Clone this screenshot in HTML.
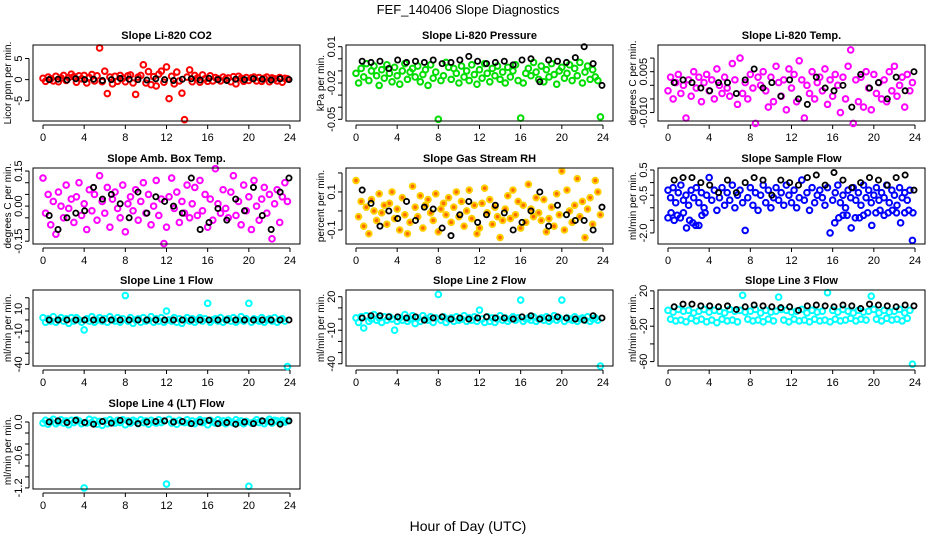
<!DOCTYPE html>
<html><head><meta charset="utf-8"><style>
body{margin:0;background:#fff;}
svg{display:block;font-family:"Liberation Sans",sans-serif;}
</style></head><body>
<svg id="chart" width="936" height="540" viewBox="0 0 936 540">
<rect width="936" height="540" fill="#fff"/>
<text x="468" y="14" text-anchor="middle" font-size="13">FEF_140406  Slope Diagnostics</text>
<text x="468" y="531" text-anchor="middle" font-size="14">Hour of Day (UTC)</text>
</svg>
<script>
const xTickValues=[0,4,8,12,16,20,24];
const blackTimes=[0.6,1.46,2.33,3.19,4.05,4.91,5.78,6.64,7.5,8.37,9.23,10.09,10.96,11.82,12.68,13.54,14.41,15.27,16.13,17.0,17.86,18.72,19.58,20.45,21.31,22.17,23.04,23.9];
const co2Vals=[0.3,-0.4,0.6,0.2,-0.3,0.8,-0.5,0.4,1.0,-0.2,0.5,1.3,0.7,-0.6,0.9,0.2,1.0,-0.8,0.5,1.2,-0.3,0.9,7.5,-0.5,2.0,-3.3,0.6,-1.0,0.8,-0.4,1.0,0.3,-0.5,0.9,1.1,-0.8,-3.5,0.6,1.0,3.5,-0.8,1.9,-1.2,0.7,-1.5,1.3,2.0,-0.6,3.0,-4.5,0.8,-1.0,1.8,-0.3,-3.2,-9.5,0.6,2.3,-0.5,1.0,0.4,-0.6,1.1,0.2,-0.4,0.9,-0.3,0.5,0.2,-0.3,0.6,0.1,0.4,-0.5,0.7,-1.0,0.8,0.3,-0.4,0.5,-0.2,0.4,0.6,-0.3,0.5,-0.4,0.3,0.6,-0.5,0.4,0.2,-0.3,0.5,-0.6,0.3,0.2];
const co2Black=[0,0.1,-0.1,0.2,0,0.1,-0.2,0,0.3,0.1,0,-0.1,0.2,0,-0.2,0.1,0.2,-0.1,0.3,0,-0.2,0.1,0,0.2,0.1,-0.1,0.2,0];
const presVals=[-12,-20,-8,-15,-4,-18,-10,-6,-14,-22,-9,-16,-5,-12,-19,-7,-14,-21,-10,-4,-17,-11,-8,-15,-6,-19,-13,-9,-22,-5,-16,-11,-50,-18,-14,-3,-7,-17,-8,-12,-20,-6,-15,-10,-18,-5,-13,-21,-9,-16,-4,-12,-19,-8,-14,-6,-17,-11,-20,-7,-15,-10,-5,-18,-49,-20,-12,-8,-14,-3,-11,-17,-6,-19,-9,-15,-4,-13,-21,-10,-7,-16,-12,-5,-18,-8,-14,-3,-20,-11,-6,-17,-9,-15,-18,-48];
const presBlack=[-2,-3,-2,-8,-1,-3,-2,-3,-1,-4,-3,-1,2,-2,-4,-3,-2,-5,-1,0,-19,-1,-2,-3,1,10,-4,-22];
const tempVals=[-2,3,-5,1,4,-3,0,-12,2,-4,5,-1,3,-6,1,4,-2,2,-5,6,0,-3,3,-1,-4,8,2,-7,10,-3,1,-5,4,-1,-14,3,0,5,-2,-8,3,-6,7,1,-4,2,-9,6,-1,4,-6,9,2,-12,0,-3,5,-5,1,3,-2,6,-7,2,-4,4,0,-10,3,-5,7,13,-14,2,-6,3,-8,5,-1,-9,4,-3,1,-5,2,-6,5,-2,7,-4,0,3,-8,4,-2,1];
const tempBlack=[1,2,1,-1,-2,1,1,-3,2,6,-1,1,-4,2,-5,-7,3,-1,-2,0,-8,4,-1,1,-5,3,-2,5];
const ambVals=[12,-3,5,-8,2,-12,6,0,-5,9,-1,3,-7,4,10,-4,1,-10,7,-2,5,-6,13,2,-3,8,-9,3,6,-1,-5,9,-11,1,4,-2,7,-6,2,10,-3,5,-8,0,11,-4,3,-16,-9,4,12,-1,6,-7,2,-3,9,-5,1,8,-4,11,-2,5,-9,3,-6,16,1,-3,7,-1,-5,6,13,-4,2,-8,9,-2,4,-10,11,0,-6,3,8,-3,5,-14,1,7,-7,4,10,2];
const ambBlack=[-4,-10,-5,-3,-2,8,3,5,1,-5,6,-3,4,2,0,-3,12,-10,-7,-1,-6,3,-2,8,-4,-10,6,12];
const rhVals=[16,-3,5,-8,2,-12,6,0,-5,9,-1,3,-7,4,10,-4,1,-10,7,-2,-12,-6,13,2,-3,8,-9,3,6,-1,-5,9,-11,1,4,-2,7,-6,2,10,-3,5,-8,0,11,-4,3,-12,-9,4,12,-1,6,-7,2,-3,-14,-5,1,8,-4,11,-2,5,-9,3,-6,14,1,-3,7,-1,-5,6,-11,-4,2,-8,9,-2,21,-10,11,0,-6,3,17,-3,5,-14,1,7,-7,16,10,-2];
const rhBlack=[11,4,-8,0,-4,5,-5,2,1,-9,-13,-2,5,-6,-2,3,-1,-10,-6,0,10,-8,3,-2,-5,-5,-10,2];
const flowVals=[-3,-6,-2,-8,-4,-1,-7,-5,-9,-3,-6,-2,-8,-4,-10,-5,2,-7,-3,-11,-6,-2,-9,-4,-7,-1,-10,-5,-3,-8,-19,-6,-2,-9,-4,-11,-5,-1,-8,-3,-10,-6,-2,-7,-4,-9,-1,-5,-8,-3,-10,-6,1,-7,-4,-11,-2,-8,-5,-3,-6,-9,-2,-20,-7,-4,-1,-8,-5,-10,-3,-6,-2,-7,-4,-9,-1,-6,-3,-8,-5,-2,-7,-4,-6,-1,-8,-3,-5,-9,-2,-6,-4,-7,-3,-23];
const flowLowTimes=[0,0.3,0.6,0.9,1.2,1.5,1.8,2.1,2.4,2.7,3.0,3.3,3.6,16.2,16.6,17,17.4,17.8,18.2,18.6,19,19.4,19.8,20.2,20.6,21,21.4,21.8,22.2,22.6,23,23.4,23.8];
const flowLowVals=[-14,-12,-15,-13,-14,-12,-18,-15,-16,-17,-17,-13,-12,-16,-14,-13,-13,-18,-14,-14,-13,-12,-17,-12,-11,-13,-12,-11,-12,-16,-12,-11,-12];
const flowBlack=[1,2,2,0,-1,-4,1,-4,0,2,1,-5,1,0,-1,2,3,-1,4,1,-2,0,2,1,-1,2,3,-3];
const line1Vals=[2,-2,1,-1,3,-2,0,2,-1,1,-3,2,-1,2,0,-2,-9,1,-1,3,-2,0,2,-1,1,-2,3,0,-1,2,-2,1,22,-1,2,-3,0,1,-2,2,-1,0,3,-2,1,-1,2,-2,8,0,-1,2,-2,1,-3,0,2,-1,1,-2,0,2,-1,1,15,-2,0,1,-1,2,-2,0,1,-1,2,-2,0,3,-1,1,15,-2,1,0,-1,2,-2,0,1,-1,2,-2,0,1,-1,-42];
const line1Black=[0,0,0,0,0,0,0,0,0,0,0,0,0,0,0,0,0,0,0,0,0,0,0,0,0,0,0,0];
const line2Vals=[1,-3,2,-8,3,-2,0,4,-1,1,-3,2,-1,2,0,-10,-2,1,-1,4,-2,0,3,-4,1,-2,3,0,-1,2,-3,1,22,-1,2,-3,0,1,-2,2,-1,0,3,-2,1,-1,2,-2,8,0,-3,2,-2,1,-3,0,3,-1,1,-2,0,2,-1,1,17,-2,0,1,-1,2,-2,0,1,-1,2,-2,0,3,-1,1,17,-2,1,0,-1,2,-2,0,1,-1,2,-2,0,1,-1,-42];
const line2Black=[1,3,3,2,2,1,2,-1,1,2,0,1,0,1,2,1,1,0,2,3,0,1,2,1,0,-1,3,1];
const line3Vals=[-2,-12,-4,-14,-1,-13,-3,-15,-2,-11,-5,-14,-3,-12,-1,-15,-4,-13,-2,-16,-3,-12,-5,-14,-1,-13,-3,-15,-2,15,-4,-12,-3,-14,-1,-13,-5,-15,-2,-12,-4,-14,-3,13,-1,-13,-2,-15,-4,-12,-3,-14,-1,-13,-5,-15,-2,-12,-4,-14,-3,-13,18,-15,-2,-12,-4,-14,-1,-13,-3,-11,-5,-14,-2,-12,-4,-13,-3,14,-1,-12,-5,-14,-2,-11,-4,-13,-3,-12,-1,-14,-5,-11,-2,-63];
const line3Black=[2,5,5,3,3,2,3,-1,2,4,3,2,1,2,-2,3,4,3,2,4,3,0,5,4,3,2,4,3];
const line4Vals=[-2,3,-4,1,5,-3,0,4,-2,2,-5,3,-1,4,2,-3,-120,-2,5,-1,3,-4,1,-6,2,-3,4,0,-2,3,-1,4,-5,2,-2,3,1,-3,4,-1,2,-4,3,0,-2,4,-1,2,-113,5,-2,1,-4,3,0,-1,4,-2,2,-3,1,4,-1,2,-5,3,0,-2,4,-1,2,-3,3,0,-2,4,-1,2,-3,1,-117,-2,0,4,-1,2,-3,1,5,-2,3,2,-1,3,0,2];
const line4Black=[0,2,-1,3,-1,-4,1,-2,3,0,-3,0,1,2,0,1,-3,0,3,-3,-1,-4,0,-3,2,0,-4,2];

const svg=document.getElementById('chart');
const NS='http://www.w3.org/2000/svg';
function mk(tag,attrs,parent){const e=document.createElementNS(NS,tag);for(const k in attrs)e.setAttribute(k,attrs[k]);(parent||svg).appendChild(e);return e;}
function evenTimes(n){const t=[];for(let i=0;i<n;i++)t.push(i*24/n);return t;}
const panels=[
{col:0,row:0,title:'Slope Li-820 CO2',yl:'Licor ppm per min.',ymin:-9.8,ymax:8.2,unit:1,ticks:[5,0,-5],labels:['5','0','-5'],series:[{t:null,v:co2Vals,c:'#ff0000'}],black:co2Black},
{col:1,row:0,title:'Slope Li-820 Pressure',yl:'kPa per min.',ymin:-0.0514,ymax:0.0114,unit:0.001,ticks:[0.01,0,-0.01,-0.02,-0.03,-0.04,-0.05],labels:['0.01','','','-0.02','','','-0.05'],series:[{t:null,v:presVals,c:'#00dd00'}],black:presBlack},
{col:2,row:0,title:'Slope Li-820 Temp.',yl:'degrees C per min.',ymin:-0.0131,ymax:0.0148,unit:0.001,ticks:[0.01,0.005,0,-0.005,-0.01],labels:['','0.005','','','-0.010'],series:[{t:null,v:tempVals,c:'#ff00ff'}],black:tempBlack},
{col:0,row:1,title:'Slope Amb. Box Temp.',yl:'degrees C per min.',ymin:-0.162,ymax:0.163,unit:0.01,ticks:[0.15,0.1,0.05,0,-0.05,-0.1,-0.15],labels:['0.15','','','0.00','','','-0.15'],series:[{t:null,v:ambVals,c:'#ff00ff'}],black:ambBlack},
{col:1,row:1,title:'Slope Gas Stream RH',yl:'percent per min.',ymin:-0.174,ymax:0.226,unit:0.01,ticks:[0.2,0.1,0,-0.1],labels:['','0.1','','-0.1'],series:[{t:null,v:rhVals,c:'#ffd000',f:'#ff6a00'}],black:rhBlack},
{col:2,row:1,title:'Slope Sample Flow',yl:'ml/min per min.',ymin:-2.44,ymax:0.58,unit:0.1,ticks:[0.5,0,-0.5,-1,-1.5,-2],labels:['0.5','','-0.5','','','-2.0'],series:[{t:null,v:flowVals,c:'#0000ff'},{t:flowLowTimes,v:flowLowVals,c:'#0000ff'}],black:flowBlack},
{col:0,row:2,title:'Slope Line 1 Flow',yl:'ml/min per min.',ymin:-41.5,ymax:27,unit:1,ticks:[20,10,0,-10,-20,-30,-40],labels:['','10','','-10','','','-40'],series:[{t:null,v:line1Vals,c:'#00ffff'}],black:line1Black},
{col:1,row:2,title:'Slope Line 2 Flow',yl:'ml/min per min.',ymin:-42,ymax:26,unit:1,ticks:[20,10,0,-10,-20,-30,-40],labels:['20','','','-10','','','-40'],series:[{t:null,v:line2Vals,c:'#00ffff'}],black:line2Black},
{col:2,row:2,title:'Slope Line 3 Flow',yl:'ml/min per min.',ymin:-65,ymax:21,unit:1,ticks:[20,0,-20,-40,-60],labels:['20','','-20','','-60'],series:[{t:null,v:line3Vals,c:'#00ffff'}],black:line3Black},
{col:0,row:3,title:'Slope Line 4 (LT) Flow',yl:'ml/min per min.',ymin:-1.22,ymax:0.164,unit:0.01,ticks:[0,-0.2,-0.4,-0.6,-0.8,-1,-1.2],labels:['0.0','','','-0.6','','','-1.2'],series:[{t:null,v:line4Vals,c:'#00ffff'}],black:line4Black}
];
const colLeft=[33,346,658], rowTop=[45,168,290,413], BW=267, BH=76;
panels.forEach((p,pi)=>{
  const L=colLeft[p.col], T=rowTop[p.row];
  const g=mk('g',{});
  
  
  const xs=h=>L+10+h*(BW-20)/24;
  const ys=v=>T+BH-(v-p.ymin)/(p.ymax-p.ymin)*BH;
  const tt=mk('text',{x:L+BW/2,y:T-6,'text-anchor':'middle','font-size':11,'font-weight':'bold'},g);tt.textContent=p.title;
  
  
  const yl=mk('text',{x:0,y:0,'text-anchor':'middle','font-size':10,transform:`translate(${L-22},${T+BH/2}) rotate(-90)`},g);yl.textContent=p.yl;
  
  
  const ax=mk('g',{stroke:'#000','stroke-width':1},g);
  
  
  mk('line',{x1:xs(0),x2:xs(24),y1:T+BH+4,y2:T+BH+4},ax);
  xTickValues.forEach(h=>{mk('line',{x1:xs(h),x2:xs(h),y1:T+BH+4,y2:T+BH+8},ax);
    const t=mk('text',{x:xs(h),y:T+BH+20,'text-anchor':'middle','font-size':11,stroke:'none',fill:'#000'},g);t.textContent=h;
    
    });
  const ay=mk('g',{stroke:'#000','stroke-width':1},g);
  
  
  mk('line',{x1:L-4,x2:L-4,y1:ys(p.ticks[0]),y2:ys(p.ticks[p.ticks.length-1])},ay);
  p.ticks.forEach((v,i)=>{mk('line',{x1:L-8,x2:L-4,y1:ys(v),y2:ys(v)},ay);
    if(p.labels[i]){const t=mk('text',{x:0,y:0,'text-anchor':'middle','font-size':11,transform:`translate(${L-11},${ys(v)}) rotate(-90)`},g);t.textContent=p.labels[i];
    
    }});
  const pts=mk('g',{},g);
  
  
  p.series.forEach(s=>{const times=s.t||evenTimes(s.v.length);
    s.v.forEach((v,i)=>{const c=mk('circle',{cx:xs(times[i]),cy:ys(v*p.unit),r:2.8,fill:s.f||'none',stroke:s.c,'stroke-width':2},pts);
      
      });});
  p.black.forEach((v,i)=>{const c=mk('circle',{cx:xs(blackTimes[i]),cy:ys(v*p.unit),r:2.6,fill:'none',stroke:'#000','stroke-width':1.8},pts);
    
    });
  const box=mk('rect',{x:L,y:T,width:BW,height:BH,fill:'none',stroke:'#000','stroke-width':1},g);
  
  
});
</script>
</body></html>
